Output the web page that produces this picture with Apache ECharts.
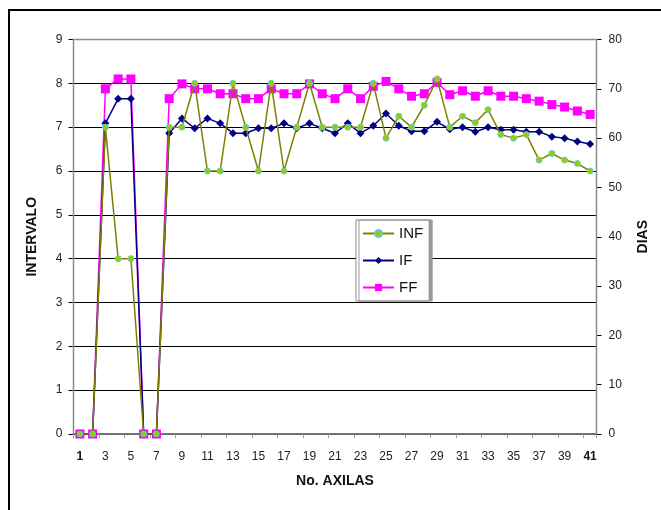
<!DOCTYPE html>
<html>
<head>
<meta charset="utf-8">
<script src="https://cdn.jsdelivr.net/npm/echarts@6/dist/echarts.min.js"></script>
<style>
  html, body { margin: 0; padding: 0; background: #ffffff; }
  #chart { width: 661px; height: 510px; }
</style>
</head>
<body>
<div id="chart"></div>
<script>
// Axil numbers along the horizontal axis
const axilas = Array.from({ length: 41 }, (_, i) => String(i + 1));

// INF: interval (left axis)
const infValues = [0, 0, 7, 4, 4, 0, 0, 7, 7, 8, 6, 6, 8, 7, 6, 8, 6, 7, 8, 7,
  7, 7, 7, 8, 6.75, 7.25, 7, 7.5, 8.1, 7, 7.25, 7.1, 7.4, 6.83, 6.75, 6.83,
  6.25, 6.4, 6.25, 6.17, 6];

// IF: days (right axis)
const ifValues = [0, 0, 63, 68, 68, 0, 0, 61, 64, 62, 64, 63, 61, 61, 62, 62, 63, 62, 63, 62,
  61, 63, 61, 62.5, 65, 62.5, 61.4, 61.4, 63.3, 61.8, 62.2, 61.3, 62.2, 61.7, 61.7, 61.3,
  61.3, 60.3, 60, 59.3, 58.8];

// FF: days (right axis)
const ffValues = [0, 0, 70, 72, 72, 0, 0, 68, 71, 70, 70, 69, 69, 68, 68, 70, 69, 69, 71, 69,
  68, 70, 68, 70.5, 71.5, 70, 68.5, 69, 71.3, 68.8, 69.6, 68.5, 69.6, 68.5, 68.5, 68,
  67.5, 66.8, 66.3, 65.5, 64.8];

const leftTicks = { min: 0, max: 9, interval: 1 };
const rightTicks = { min: 0, max: 80, interval: 10 };

const FONT = '"Liberation Sans", Arial, sans-serif';

const chart = echarts.init(document.getElementById('chart'), null, { renderer: 'canvas' });

chart.setOption({
  backgroundColor: '#ffffff',
  animation: false,
  textStyle: { fontFamily: FONT },
  graphic: [
    {
      type: 'rect',
      shape: { x: 9, y: 10, width: 700, height: 600 },
      style: { fill: 'none', stroke: '#000000', lineWidth: 2 },
      silent: true,
      z: -10
    },
    {
      type: 'rect',
      shape: { x: 73.5, y: 39.5, width: 523, height: 394.5 },
      style: { fill: 'none', stroke: '#8c8c8c', lineWidth: 1.5 },
      silent: true,
      z: 1
    }
  ],
  grid: { left: 73.5, top: 39.5, right: 64.5, bottom: 76, containLabel: false },
  legend: {
    data: ['INF', 'IF', 'FF'],
    orient: 'vertical',
    left: 356,
    top: 220,
    padding: [6, 6, 6, 6],
    itemWidth: 31,
    itemHeight: 9,
    itemGap: 12,
    backgroundColor: '#ffffff',
    borderColor: '#8c8c8c',
    borderWidth: 1,
    shadowColor: '#9a9a9a',
    shadowOffsetX: 3,
    shadowOffsetY: 0,
    shadowBlur: 0,
    textStyle: { fontFamily: FONT, fontSize: 15, color: '#111111', padding: [0, 20, 0, 0] },
    z: 10
  },
  xAxis: {
    type: 'category',
    data: axilas,
    boundaryGap: true,
    name: 'No. AXILAS',
    nameLocation: 'middle',
    nameGap: 40,
    nameTextStyle: { fontFamily: FONT, fontSize: 14, fontWeight: 'bold', color: '#111111' },
    axisLine: { show: true, lineStyle: { color: '#000000', width: 1.5 } },
    axisTick: { show: true, length: 4, lineStyle: { color: '#999999' } },
    axisLabel: {
      interval: 1,
      margin: 17,
      fontFamily: FONT,
      fontSize: 12,
      color: '#222222',
      formatter: function (v) {
        return (v === '1' || v === '41') ? '{b|' + v + '}' : v;
      },
      rich: { b: { fontFamily: FONT, fontSize: 12, fontWeight: 'bold', color: '#111111' } }
    },
    splitLine: { show: false }
  },
  yAxis: [
    {
      type: 'value',
      min: leftTicks.min,
      max: leftTicks.max,
      interval: leftTicks.interval,
      position: 'left',
      name: 'INTERVALO',
      nameLocation: 'middle',
      nameRotate: 90,
      nameGap: 34,
      nameTextStyle: { fontFamily: FONT, fontSize: 14, fontWeight: 'bold', color: '#111111' },
      axisLine: { show: false },
      axisTick: { show: true, length: 5, lineStyle: { color: '#000000' } },
      axisLabel: { margin: 11, fontFamily: FONT, fontSize: 12, color: '#222222' },
      splitLine: { show: true, lineStyle: { color: '#000000', width: 1.2 } }
    },
    {
      type: 'value',
      min: rightTicks.min,
      max: rightTicks.max,
      interval: rightTicks.interval,
      position: 'right',
      name: 'DIAS',
      nameLocation: 'middle',
      nameRotate: 90,
      nameGap: 40,
      nameTextStyle: { fontFamily: FONT, fontSize: 14, fontWeight: 'bold', color: '#111111' },
      axisLine: { show: false },
      axisTick: { show: true, length: 5, lineStyle: { color: '#000000' } },
      axisLabel: { margin: 12, fontFamily: FONT, fontSize: 12, color: '#222222' },
      splitLine: { show: false }
    }
  ],
  series: [
    {
      name: 'FF',
      type: 'line',
      yAxisIndex: 1,
      data: ffValues,
      symbol: 'rect',
      symbolSize: 9,
      showSymbol: true,
      showAllSymbol: true,
      lineStyle: { color: '#ff00ff', width: 1.5 },
      itemStyle: { color: '#ff00ff' },
      z: 3
    },
    {
      name: 'IF',
      type: 'line',
      yAxisIndex: 1,
      data: ifValues,
      symbol: 'diamond',
      symbolSize: 8,
      showSymbol: true,
      showAllSymbol: true,
      lineStyle: { color: '#000080', width: 1.5 },
      itemStyle: { color: '#000080' },
      z: 4
    },
    {
      name: 'INF',
      type: 'line',
      yAxisIndex: 0,
      data: infValues,
      symbol: 'circle',
      symbolSize: 6,
      showSymbol: true,
      showAllSymbol: true,
      lineStyle: { color: '#808000', width: 1.5 },
      itemStyle: { color: '#99cc00', borderColor: '#66cccc', borderWidth: 1 },
      z: 5
    }
  ]
});
</script>
</body>
</html>
